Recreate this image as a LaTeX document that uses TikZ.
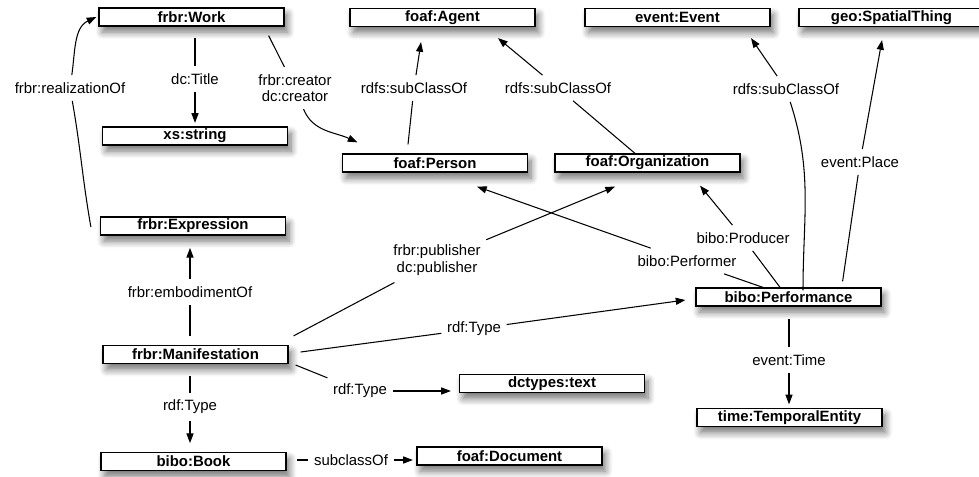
\documentclass[tikz,border=0pt]{standalone}
\usepackage{fontspec}
\setmainfont{Liberation Sans}
\usepackage{tikz}
\usetikzlibrary{calc,arrows.meta,shadows,shadows.blur}
\tikzset{
	classbox/.style={draw, line width=0.7pt, fill=white, minimum width=3.7cm, minimum height=0.36cm, inner sep=0pt, font=\fontsize{8.5}{9.5}\selectfont\bfseries, blur shadow={shadow xshift=2pt, shadow yshift=-3.5pt, shadow blur radius=4pt, shadow blur steps=8, shadow opacity=55}},
	edgelabel/.style={inner xsep=3pt, inner ysep=4pt, align=center, font=\fontsize{8.5}{9.3}\selectfont},
	link/.style={line width=0.6pt},
	arrow/.style={line width=0.6pt, -{Triangle[length=5.5pt,width=4pt]}}
}

\begin{document}
\begin{tikzpicture}[x=0.02cm, y=0.02cm]
		%%%%% START %%%%%
		\useasboundingbox (0,0) rectangle (979,-476);
		
		\node[classbox] (work) at (191.5,-17) {frbr:Work};
		\node[classbox] (xsstring) at (195,-136) {xs:string};
		\node[classbox] (expr) at (193,-226) {frbr:Expression};
		\node[classbox] (manif) at (195.5,-354.5) {frbr:Manifestation};
		\node[classbox] (book) at (193.5,-461.5) {bibo:Book};
		\node[classbox] (document) at (509.5,-456) {foaf:Document};
		\node[classbox] (dctypes) at (552,-383.5) {dctypes:text};
		
		\node[classbox] (agent) at (442.5,-17.5) {foaf:Agent};
		\node[classbox] (event) at (677.5,-17.5) {event:Event};
		\node[classbox] (spatial) at (891.5,-17.5) {geo:SpatialThing};
		\node[classbox] (person) at (435,-163) {foaf:Person};
		\node[classbox] (org) at (647.5,-163) {foaf:Organization};
		\node[classbox] (perf) at (788.5,-297) {bibo:Performance};
		\node[classbox] (temporal) at (789.5,-417.5) {time:TemporalEntity};
		
		% labels on the links
		\node[edgelabel] (lTitle) at (195,-79) {dc:Title};
		\node[edgelabel] (lReal) at (70,-88) {frbr:realizationOf};
		\node[edgelabel] (lCreator) at (295,-88) {frbr:creator\\dc:creator};
		\node[edgelabel] (lPersonSub) at (414,-88) {rdfs:subClassOf};
		\node[edgelabel] (lOrgSub) at (558,-88) {rdfs:subClassOf};
		\node[edgelabel] (lEventSub) at (786,-89) {rdfs:subClassOf};
		\node[edgelabel] (lPlace) at (860,-162) {event:Place};
		\node[edgelabel] (lProducer) at (743,-238) {bibo:Producer};
		\node[edgelabel] (lPerformer) at (687,-261) {bibo:Performer};
		\node[edgelabel] (lPublisher) at (437,-260) {frbr:publisher\\dc:publisher};
		\node[edgelabel] (lTypePerf) at (474,-329) {rdf:Type};
		\node[edgelabel] (lTypeText) at (360,-391) {rdf:Type};
		\node[edgelabel] (lEmbody) at (190,-292) {frbr:embodimentOf};
		\node[edgelabel] (lTypeBook) at (190,-407) {rdf:Type};
		\node[edgelabel] (lSubclass) at (351,-460) {subclassOf};
		\node[edgelabel] (lTime) at (789,-360) {event:Time};
		
		% frbr chain
		\draw[link, shorten <=6.5pt] (lTitle |- work.south) -- (lTitle);
		\draw[arrow, shorten >=2pt] (lTitle) -- (lTitle |- xsstring.north);
		\draw[link] ($(expr.west)+(-9,-1)$) to[out=100,in=-80] (lReal);
		\draw[arrow] (lReal) to[out=82,in=205] ($(work.west)+(-2,0)$);
		\draw[link] ($(work.south east)+(-16,-9)$) -- (lCreator);
		\draw[arrow] (lCreator) to[out=-68,in=155] ($(person.north west)+(15.5,11)$);
		\draw[link, shorten <=5pt] (lEmbody |- manif.north) -- (lEmbody);
		\draw[arrow, shorten >=7pt] (lEmbody) -- (lEmbody |- expr.south);
		\draw[link, shorten <=7pt] (lTypeBook |- manif.south) -- (lTypeBook);
		\draw[arrow, shorten >=5pt] (lTypeBook) -- (lTypeBook |- book.north);
		\draw[link, shorten <=6pt] (book.east |- lSubclass) -- (lSubclass);
		\draw[arrow, shorten >=2pt] (lSubclass) -- (document.west |- lSubclass);
		
		% agents
		\draw[link] ($(person.north)+(-27,9)$) -- (lPersonSub);
		\draw[arrow] (lPersonSub) -- ($(agent.south)+(-21.5,-15)$);
		\draw[link] ($(org.north)+(-12.5,0)$) -- (lOrgSub);
		\draw[arrow] (lOrgSub) -- ($(agent.south)+(55.5,-11)$);
		
		% manifestation out
		\draw[link] ($(manif.north east)+(5,9)$) -- (lPublisher);
		\draw[arrow] (lPublisher) -- ($(org.south)+(-32.5,-14)$);
		\draw[link] ($(manif.east)+(12,2.5)$) -- (lTypePerf);
		\draw[arrow] (lTypePerf) -- ($(perf.west)+(-10,-3)$);
		\draw[link] ($(manif.east)+(7,-10.5)$) -- (lTypeText);
		\draw[arrow] (lTypeText) -- ($(lTypeText -| dctypes.west)+(-8,0)$);
		
		% performance
		\draw[link] ($(perf.north)+(14.5,-3)$) to[out=90,in=-72] (lEventSub);
		\draw[arrow] (lEventSub) -- ($(event.south)+(73.5,-11)$);
		\draw[link] ($(perf.north east)+(-39,6)$) -- (lPlace);
		\draw[arrow] (lPlace) -- ($(spatial.south)+(-9.5,-13)$);
		\draw[link] ($(perf.north)+(-8.5,0)$) -- (lProducer);
		\draw[arrow] (lProducer) -- ($(org.south)+(52.5,-13)$);
		\draw[link] ($(perf.north)+(-25.5,0)$) -- (lPerformer);
		\draw[arrow] (lPerformer) -- ($(person.south)+(42,-14)$);
		\draw[link, shorten <=7pt] (lTime |- perf.south) -- (lTime);
		\draw[arrow, shorten >=2pt] (lTime) -- (lTime |- temporal.north);
		
		%%%%% END %%%%%
	\end{tikzpicture}
\end{document}
